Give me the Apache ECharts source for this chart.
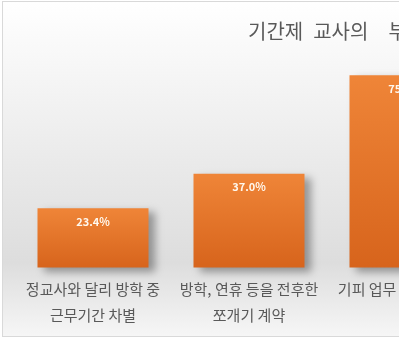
<!DOCTYPE html>
<html><head><meta charset="utf-8">
<script src="https://cdn.jsdelivr.net/npm/echarts@6/dist/echarts.min.js"></script>
<style>
html,body{margin:0;padding:0;width:399px;height:342px;overflow:hidden;background:#fff;}
#wrap{position:absolute;left:2px;top:1px;width:520px;height:334px;border:1px solid #d9d9d9;}
#c{width:520px;height:334px;}
</style></head>
<body><div id="wrap"><div id="c"></div></div>
<script>
const titleText = '기간제\u2002교사의\u2003부당\u2002대우';
const categories = ['정교사와 달리 방학 중\n근무기간 차별', '방학, 연휴 등을 전후한\n쪼개기 계약', '기피 업무 떠넘기기 등'];
const values = [23.4, 37.0, 75.8];

const chart = echarts.init(document.getElementById('c'), null, {renderer:'canvas'});
chart.setOption({
  backgroundColor: new echarts.graphic.LinearGradient(0,0,0,1,[
    {offset:0,color:'#ffffff'},
    {offset:0.78,color:'#dddddd'},
    {offset:1,color:'#f6f6f6'}
  ]),
  textStyle:{fontFamily:'"Noto Sans CJK KR", "Noto Sans", sans-serif'},
  title:{text:titleText,left:240,top:14,textStyle:{fontSize:20,fontWeight:'normal',color:'#595959',fontFamily:'"Noto Sans CJK KR", sans-serif'}},
  grid:{left:12,right:40,top:12,bottom:68.5},
  xAxis:{type:'category',data:categories,axisLine:{show:false},axisTick:{show:false},
    axisLabel:{fontSize:15,color:'#595959',lineHeight:26,margin:9,interval:0}},
  yAxis:{type:'value',min:0,max:100,show:false,splitLine:{show:false}},
  series:[{type:'bar',data:values,barWidth:111,
    itemStyle:{color:new echarts.graphic.LinearGradient(0,0,0,1,[{offset:0,color:'#ef8538'},{offset:1,color:'#d7641c'}]),
      shadowColor:'rgba(0,0,0,0.35)',shadowBlur:8,shadowOffsetX:6,shadowOffsetY:4},
    label:{show:true,position:'insideTop',distance:8,formatter:p=>p.value.toFixed(1)+'%',fontSize:11,fontWeight:'bold',color:'#fff8ee'}
  }]
});
</script></body></html>
